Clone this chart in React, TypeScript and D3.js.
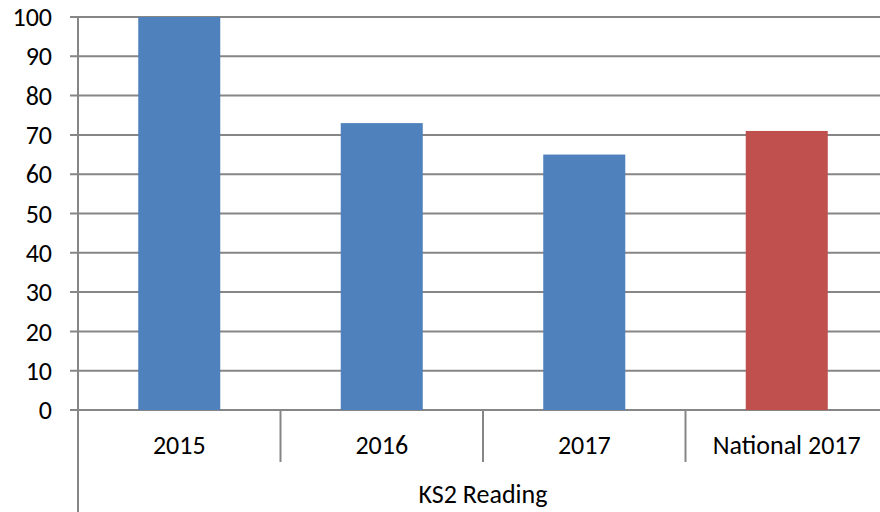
import React, { useRef, useEffect } from 'react';
import * as d3 from 'd3';

const categories = ['2015', '2016', '2017', 'National 2017'];
const values = [100, 73, 65, 71];
const barColors = ['#4F81BD', '#4F81BD', '#4F81BD', '#C0504D'];
const yTicks = [0, 10, 20, 30, 40, 50, 60, 70, 80, 90, 100];
const groupLabel = 'KS2 Reading';

const App = () => {
  const ref = useRef<SVGSVGElement | null>(null);

  useEffect(() => {
    if (!ref.current) return;
    const svg = d3.select(ref.current);
    svg.selectAll('*').remove();

    const left = 78;
    const right = 888;
    const top = 17;
    const bottom = 410;
    const font = 'Calibri, Carlito, "Open Sans", sans-serif';
    const fontSize = 26;

    const x = d3.scaleBand<string>()
      .domain(categories)
      .range([left, right])
      .paddingInner(0.595)
      .paddingOuter(0.2975);

    const y = d3.scaleLinear().domain([0, 100]).range([bottom, top]);

    // gridlines + tick marks
    svg.append('g')
      .selectAll('line')
      .data(yTicks)
      .enter()
      .append('line')
      .attr('x1', left - 8)
      .attr('x2', right)
      .attr('y1', d => y(d))
      .attr('y2', d => y(d))
      .attr('stroke', '#868686')
      .attr('stroke-width', 2);

    svg.append('g')
      .selectAll('text')
      .data(yTicks)
      .enter()
      .append('text')
      .attr('x', 52)
      .attr('y', d => y(d))
      .attr('dy', '0.35em')
      .attr('text-anchor', 'end')
      .attr('font-family', font)
      .attr('font-size', fontSize)
      .attr('fill', '#000')
      .text(d => d);

    // bars
    svg.append('g')
      .selectAll('rect')
      .data(values)
      .enter()
      .append('rect')
      .attr('x', (d, i) => x(categories[i])!)
      .attr('width', x.bandwidth())
      .attr('y', d => y(d))
      .attr('height', d => y(0) - y(d))
      .attr('fill', (d, i) => barColors[i]);

    // left axis line
    svg.append('line')
      .attr('x1', left).attr('x2', left)
      .attr('y1', top).attr('y2', 512)
      .attr('stroke', '#868686')
      .attr('stroke-width', 2);

    // category separators
    const step = x.step();
    svg.append('g')
      .selectAll('line')
      .data(categories.slice(1))
      .enter()
      .append('line')
      .attr('x1', d => x(d)! - (step - x.bandwidth()) / 2)
      .attr('x2', d => x(d)! - (step - x.bandwidth()) / 2)
      .attr('y1', bottom)
      .attr('y2', 462)
      .attr('stroke', '#868686')
      .attr('stroke-width', 2);

    svg.append('g')
      .selectAll('text')
      .data(categories)
      .enter()
      .append('text')
      .attr('x', d => x(d)! + x.bandwidth() / 2)
      .attr('y', 445)
      .attr('dy', '0.35em')
      .attr('text-anchor', 'middle')
      .attr('font-family', font)
      .attr('font-size', fontSize)
      .attr('fill', '#000')
      .text(d => d);

    svg.append('text')
      .attr('x', (left + right) / 2)
      .attr('y', 494)
      .attr('dy', '0.35em')
      .attr('text-anchor', 'middle')
      .attr('font-family', font)
      .attr('font-size', fontSize)
      .attr('fill', '#000')
      .text(groupLabel);
  }, []);

  return (
    <svg
      ref={ref}
      width={880}
      height={512}
      style={{ position: 'absolute', left: 0, top: 0, background: '#fff' }}
    />
  );
};

export default App;
